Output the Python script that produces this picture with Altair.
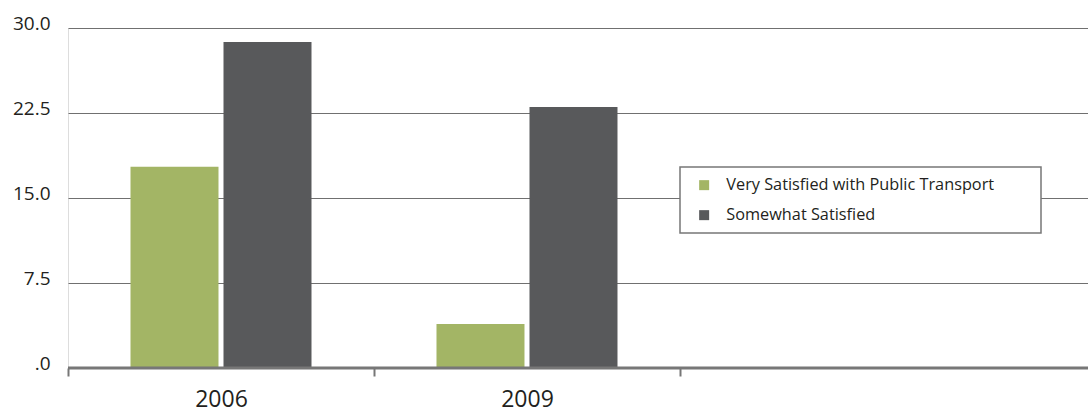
import altair as alt
import pandas as pd

categories = ["2006", "2009"]
series = ["Very Satisfied with Public Transport", "Somewhat Satisfied"]
very_satisfied = [17.76, 3.88]
somewhat_satisfied = [28.76, 23.03]
colors = ["#a3b565", "#58595b"]
y_ticks = [0, 7.5, 15, 22.5, 30]

rows = []
for i, c in enumerate(categories):
    rows.append({"year": c, "series": series[0], "value": very_satisfied[i]})
    rows.append({"year": c, "series": series[1], "value": somewhat_satisfied[i]})
df = pd.DataFrame(rows)

W, H = 1020, 340
FONT = "Open Sans"
TXT = "#231f20"

bars = alt.Chart(df).mark_bar().encode(
    x=alt.X(
        "year:N",
        scale=alt.Scale(domain=categories, paddingInner=0, paddingOuter=0.6667, align=0),
        axis=alt.Axis(
            title=None, domain=False, grid=False, tickBand="extent",
            ticks=True, tickSize=8, tickColor="#777777", tickWidth=2,
            labelAngle=0, labelFontSize=23, labelPadding=12, labelColor=TXT,
            labelFont=FONT,
        ),
    ),
    xOffset=alt.XOffset(
        "series:N", sort=series,
        scale=alt.Scale(domain=series, paddingInner=0.0538, paddingOuter=0.672),
    ),
    y=alt.Y(
        "value:Q",
        scale=alt.Scale(domain=[0, 30], nice=False, zero=True),
        axis=alt.Axis(
            title=None, values=y_ticks, domain=False, ticks=False, tickSize=0,
            labelExpr="datum.value == 0 ? '.0' : format(datum.value, '.1f')",
            labelPadding=18, labelFontSize=19, labelColor=TXT, labelFont=FONT,
            labelBaseline="alphabetic", labelOffset=1,
            gridColor="#707070", gridWidth=1.2,
        ),
    ),
    color=alt.Color(
        "series:N",
        scale=alt.Scale(domain=series, range=colors),
        legend=alt.Legend(
            title=None, orient="none", legendX=618, legendY=139, padding=10,
            symbolType="square", symbolSize=100, symbolStrokeWidth=0,
            labelFontSize=16.3, labelFont=FONT, labelColor=TXT, labelOffset=14,
            labelLimit=500, rowPadding=13,
        ),
    ),
)

one = pd.DataFrame({"a": [0]})
axis_line = alt.Chart(one).mark_rule(color="#777777", strokeWidth=3).encode(
    y=alt.datum(0), x=alt.value(0), x2=alt.value(W)
)
legend_box = alt.Chart(one).mark_rect(fill="white", stroke="#777777", strokeWidth=1.5).encode(
    x=alt.value(612), x2=alt.value(973), y=alt.value(139), y2=alt.value(205)
)

chart = alt.layer(bars, axis_line, legend_box).properties(
    width=W, height=H,
    autosize=alt.AutoSizeParams(type="none"),
    padding={"left": 68, "top": 28, "right": 0, "bottom": 50},
).configure_view(stroke=None).configure(font=FONT)

chart.save("out.html", embed_options={"renderer": "svg", "actions": False})
